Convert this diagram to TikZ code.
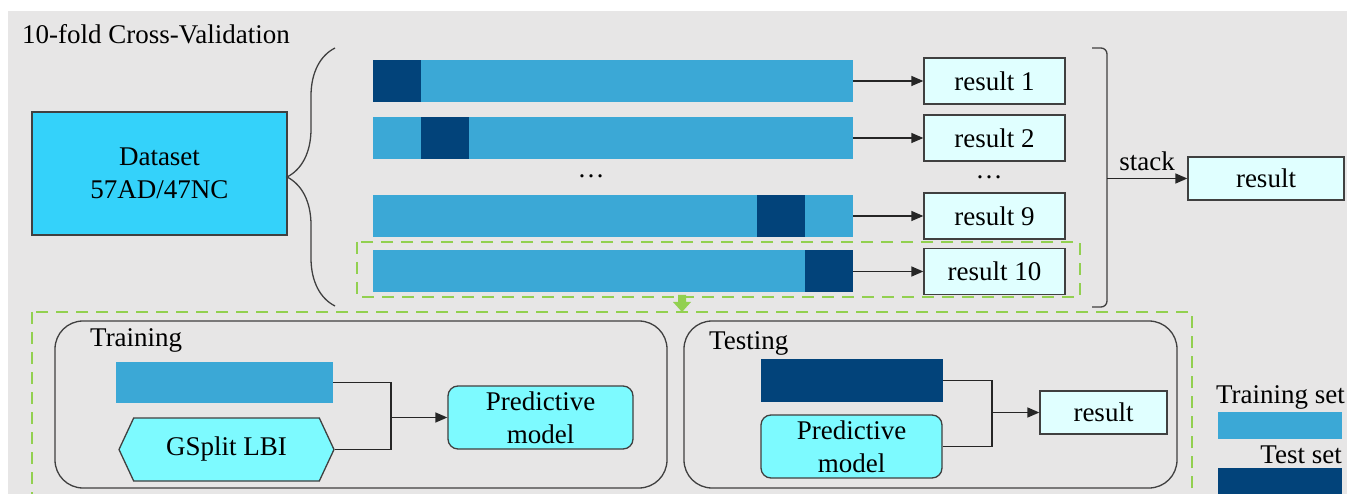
\documentclass[tikz,border=0pt]{standalone}
\usepackage{fontspec}
\setmainfont{Liberation Serif}
\usetikzlibrary{arrows.meta}
\usetikzlibrary{shapes.symbols}
\usetikzlibrary{decorations.pathreplacing}
\usepackage{xcolor}

\definecolor{panelgray}{RGB}{231,230,230}
\definecolor{datacyan}{RGB}{52,210,250}
\definecolor{trainblue}{RGB}{59,168,214}
\definecolor{testblue}{RGB}{2,67,122}
\definecolor{reslight}{RGB}{224,255,255}
\definecolor{modelaqua}{RGB}{125,250,255}
\definecolor{foldgreen}{RGB}{146,208,80}
\definecolor{edgegray}{RGB}{64,64,64}

\tikzset{
 box/.style={draw=edgegray, line width=1.3pt, inner sep=0pt},
 resbox/.style={box, fill=reslight, minimum width=141pt, minimum height=46pt},
 model/.style={box, fill=modelaqua, rounded corners=10pt, align=center, minimum height=63pt},
 trainbar/.style={fill=trainblue, inner sep=0pt},
 testbar/.style={fill=testblue, inner sep=0pt},
 panel/.style={draw=edgegray, line width=1.3pt, rounded corners=28pt, inner sep=0pt},
 greendash/.style={draw=foldgreen, line width=2pt, dash pattern=on 12pt off 8pt},
 link/.style={draw=black!85, line width=1.3pt}
}

\begin{document}
\begin{tikzpicture}[x=1pt, y=-1pt, font=\fontsize{27}{33}\selectfont, >={Triangle[length=12pt,width=10pt]}]
\clip (0,0) rectangle (1347,494);
\fill[panelgray] (8,11) rectangle (1347,494);
\node[anchor=base west, inner sep=0pt] (title) at (22,44) {10-fold Cross-Validation};

% dataset and folds
\node[box, fill=datacyan, minimum width=255pt, minimum height=123pt, align=center] (data) at (159.5,173.5) {Dataset\\57AD/47NC};
\draw[edgegray, line width=1.3pt, decorate, decoration={brace, amplitude=48pt}] (335,306) -- (335,48);

\foreach \n/\y/\k in {1/81/0, 2/138/1, 9/216/8, 10/271.5/9} {
 \node[trainbar, minimum width=480pt, minimum height=42pt] (bar\n) at (613,\y) {};
 \fill[testblue] (373+48*\k,\y-21) rectangle ++(48,42);
 \node[resbox] (res\n) at (994.5,\y) {result \n};
 \draw[link, ->] (bar\n.east) -- (res\n.west);
}
\node (dotsL) at (591,176) {…};
\node (dotsR) at (989,177) {…};

% stack
\draw[edgegray, line width=1.3pt, rounded corners=6pt] (1092,48) -- (1107,48) -- (1107,307) -- (1092,307);
\coordinate (stk) at (1107,178.5);
\node[resbox, minimum width=156pt, minimum height=43pt] (final) at (1266,178.5) {result};
\draw[link, ->] (stk) -- (final) node[midway, above=7pt, inner sep=0pt] {stack};

% selected fold
\draw[greendash] (357,242) rectangle (1080,297);
\draw[greendash] (32,312) rectangle (1192,520);
\fill[foldgreen] (678,295) -- (686,295) -- (686,302) -- (691,302) -- (682,312) -- (673,302) -- (678,302) -- cycle;

% training
\node[panel, minimum width=612pt, minimum height=167pt] (trainpanel) at (361,404.5) {};
\node[anchor=base west, inner sep=0pt] (trainlabel) at (90,347) {Training};
\node[trainbar, minimum width=217pt, minimum height=41pt] (tbar) at (224.5,382.5) {};
\node[box, signal, signal to=east and west, signal pointer angle=130, fill=modelaqua, minimum width=215pt, minimum height=63pt] (gsplit) at (226.5,449.5) {GSplit LBI};
\node[model, minimum width=185pt] (pm1) at (540.5,417.5) {Predictive\\model};
\coordinate (jtrain) at (391,417.5);
\draw[link] (tbar.east) -| (jtrain);
\draw[link] (gsplit.east) -| (jtrain);
\draw[link, ->] (jtrain) -- (pm1.west);

% testing
\node[panel, minimum width=493pt, minimum height=167pt] (testpanel) at (930.5,404.5) {};
\node[anchor=base west, inner sep=0pt] (testlabel) at (709,349) {Testing};
\node[testbar, minimum width=182pt, minimum height=43pt] (ebar) at (852,380.5) {};
\node[model, minimum width=181pt] (pm2) at (851.5,446.5) {Predictive\\model};
\node[resbox, minimum width=127pt, minimum height=43pt] (tres) at (1103.5,412.5) {result};
\coordinate (jtest) at (992,412.5);
\draw[link] (ebar.east) -| (jtest);
\draw[link] (pm2.east) -| (jtest);
\draw[link, ->] (jtest) -- (tres.west);

% legend
\node[anchor=base east, inner sep=0pt] (legtraintext) at (1345,403) {Training set};
\node[trainbar, minimum width=124pt, minimum height=27pt] (legtrain) at (1280,425.5) {};
\node[anchor=base east, inner sep=0pt] (legtesttext) at (1342,463) {Test set};
\node[testbar, minimum width=124pt, minimum height=40pt] (legtest) at (1280,488) {};
\end{tikzpicture}
\end{document}
